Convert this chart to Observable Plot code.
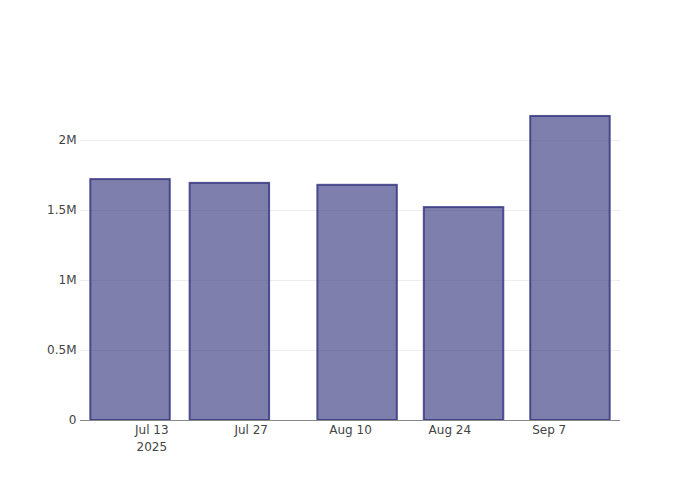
<!DOCTYPE html>
<html>
<head>
<meta charset="utf-8">
<script src="https://cdn.jsdelivr.net/npm/d3@7"></script>
<script src="https://cdn.jsdelivr.net/npm/@observablehq/plot@0.6"></script>
<style>
  html, body { margin: 0; padding: 0; background: #fff; }
  #chart { width: 700px; height: 500px; }
  svg { font-family: "DejaVu Sans", sans-serif; }
</style>
</head>
<body>
<div id="chart"></div>
<script>
const dates = ["2025-07-10", "2025-07-24", "2025-08-11", "2025-08-26", "2025-09-10"];
const values = [1721000, 1694000, 1680000, 1521000, 2172000];
const xTicks = ["2025-07-13", "2025-07-27", "2025-08-10", "2025-08-24", "2025-09-07"];
const yTicks = [0, 500000, 1000000, 1500000, 2000000];
const yTickLabels = ["0", "0.5M", "1M", "1.5M", "2M"];

const DAY = 864e5;
const barHalf = 5.6 * DAY;
const data = dates.map((d, i) => {
  const t = new Date(d + "T00:00:00Z").getTime();
  return { x1: new Date(t - barHalf), x2: new Date(t + barHalf), y: values[i] };
});
const t0 = new Date(dates[0] + "T00:00:00Z").getTime();
const tN = new Date(dates[dates.length - 1] + "T00:00:00Z").getTime();
const pad = 7.05 * DAY;
const tickDates = xTicks.map(d => new Date(d + "T00:00:00Z"));
const fmt = d3.utcFormat("%b %-d");

const chart = Plot.plot({
  width: 700,
  height: 500,
  marginLeft: 80,
  marginRight: 80,
  marginTop: 100,
  marginBottom: 80,
  style: { fontFamily: "'DejaVu Sans', sans-serif", fontSize: "12px", color: "#444", background: "#fff" },
  x: { type: "utc", domain: [new Date(t0 - pad), new Date(tN + pad)] },
  y: { domain: [0, 2286000] },
  marks: [
    Plot.gridY(yTicks.slice(1), { stroke: "#eee", strokeOpacity: 1, strokeWidth: 1 }),
    Plot.rectY(data, { x1: "x1", x2: "x2", y: "y", fill: "rgb(42,42,120)", fillOpacity: 0.6, stroke: "rgb(55,55,130)", strokeOpacity: 0.85, strokeWidth: 2, inset: 0 }),
    Plot.ruleY([0], { stroke: "#888", strokeWidth: 1 }),
    Plot.axisY(yTicks, { tickSize: 0, tickPadding: 4, tickFormat: (d) => yTickLabels[yTicks.indexOf(d)], label: null, fontSize: 12, fill: "#444" }),
    Plot.axisX(tickDates, { tickSize: 0, tickPadding: 1, tickFormat: (d, i) => i === 0 ? fmt(d) + "\n" + d.getUTCFullYear() : fmt(d), label: null, fontSize: 12, fill: "#444", lineHeight: 1.45 })
  ]
});
document.getElementById("chart").appendChild(chart);
</script>
</body>
</html>
